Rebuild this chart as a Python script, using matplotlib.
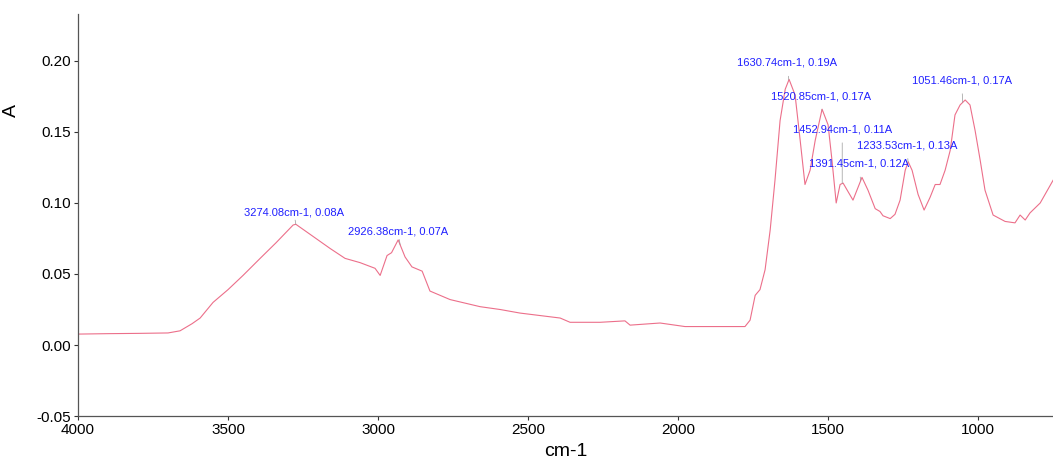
import numpy as np
import matplotlib
matplotlib.use("Agg")
import matplotlib.pyplot as plt

plt.rcParams['font.family'] = ['Liberation Sans', 'DejaVu Sans']

# FTIR spectrum (wavenumber in cm-1, absorbance A)
wavenumber = [4000, 3900, 3800, 3700, 3660, 3620, 3593, 3550, 3500, 3450,
              3393, 3340, 3283, 3274, 3227, 3160, 3110, 3060, 3010, 2993,
              2970, 2955, 2933, 2910, 2887, 2853, 2827, 2760, 2660, 2593,
              2527, 2393, 2360, 2260, 2177, 2160, 2060, 1977, 1777, 1760,
              1743, 1727, 1710, 1693, 1677, 1660, 1643, 1630, 1610, 1593,
              1577, 1560, 1543, 1520, 1500, 1487, 1473, 1460, 1450, 1417,
              1387, 1367, 1343, 1327, 1317, 1293, 1277, 1260, 1243, 1233,
              1220, 1200, 1180, 1160, 1143, 1127, 1110, 1093, 1077, 1060,
              1043, 1027, 1010, 993, 977, 950, 910, 877, 860, 843,
              827, 793, 750]
absorbance = [0.0077, 0.0080, 0.0082, 0.0085, 0.0100, 0.0150, 0.019, 0.030, 0.039, 0.049,
              0.061, 0.072, 0.0845, 0.085, 0.078, 0.068, 0.061, 0.058, 0.054, 0.049,
              0.063, 0.065, 0.074, 0.062, 0.055, 0.052, 0.038, 0.032, 0.027, 0.025,
              0.0225, 0.019, 0.016, 0.016, 0.017, 0.014, 0.0155, 0.013, 0.013, 0.0175,
              0.035, 0.039, 0.053, 0.081, 0.116, 0.158, 0.180, 0.187, 0.176, 0.144,
              0.113, 0.123, 0.144, 0.166, 0.155, 0.130, 0.100, 0.113, 0.114, 0.102,
              0.118, 0.109, 0.096, 0.094, 0.091, 0.089, 0.092, 0.102, 0.123, 0.129,
              0.123, 0.106, 0.095, 0.104, 0.113, 0.113, 0.123, 0.137, 0.162, 0.169,
              0.1725, 0.169, 0.151, 0.130, 0.109, 0.0915, 0.087, 0.086, 0.0915, 0.088,
              0.093, 0.100, 0.116]

# labelled peaks
peak_wn = [3274.08, 2926.38, 1630.74, 1520.85, 1452.94, 1391.45, 1233.53, 1051.46]
peak_a = [0.08, 0.07, 0.19, 0.17, 0.11, 0.12, 0.13, 0.17]
# label offsets from the peak, in pixels (dx, dy)
label_off = [(-2, 12), (-2, 13), (-2, 17), (-1, 14), (0, 54), (-2, 17), (-1, 17), (-1, 22)]

fig = plt.figure(figsize=(10.53, 4.68), dpi=100)
ax = fig.add_axes([0.0741, 0.111, 0.926, 0.859])

ax.plot(wavenumber, absorbance, color='#ec6f8a', lw=0.8)

wn_inc = wavenumber[::-1]
a_inc = absorbance[::-1]
for wn, a, (dx, dy) in zip(peak_wn, peak_a, label_off):
    y = np.interp(wn, wn_inc, a_inc)
    ax.annotate(f"{wn:.2f}cm-1, {a:.2f}A", xy=(wn, y),
                xytext=(dx * 0.72, dy * 0.72), textcoords='offset points',
                ha='center', va='center', fontsize=8, color='#2020ff',
                arrowprops=dict(arrowstyle='-', color='#999999', lw=0.5,
                                shrinkA=4, shrinkB=0))

ax.set_xlim(4000, 750)
ax.set_ylim(-0.05, 0.233)
ax.set_xticks([4000, 3500, 3000, 2500, 2000, 1500, 1000])
ax.set_yticks([-0.05, 0.0, 0.05, 0.10, 0.15, 0.20])
ax.set_yticklabels(['-0.05', '0.00', '0.05', '0.10', '0.15', '0.20'])
ax.tick_params(labelsize=11, length=3, width=0.8, colors='#333333', labelcolor='black', pad=2)
ax.set_xlabel('cm-1', fontsize=14, labelpad=4)
ax.set_ylabel('A', fontsize=14)
ax.yaxis.set_label_coords(-0.06, 0.76)

for s in ['top', 'right']:
    ax.spines[s].set_visible(False)
for s in ['left', 'bottom']:
    ax.spines[s].set_color('#555555')
    ax.spines[s].set_linewidth(0.9)

fig.savefig('out.png', dpi=100)
